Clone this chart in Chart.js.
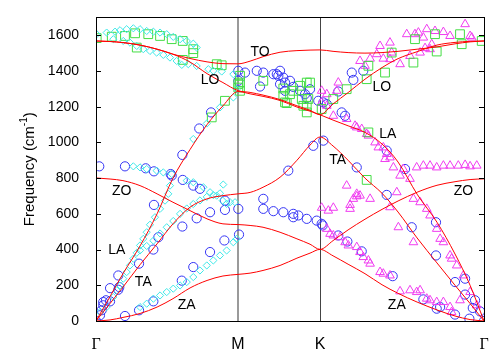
<!DOCTYPE html>
<html>
<head>
<meta charset="utf-8">
<script src="https://cdn.jsdelivr.net/npm/chart.js@4.4.1/dist/chart.umd.min.js"></script>
<style>
  html, body { margin: 0; padding: 0; background: #fff; }
  #wrap { width: 500px; height: 350px; }
</style>
</head>
<body>
<div id="wrap"><canvas id="chart"></canvas></div>
<script>
// high symmetry points along the path (Gamma-M = 1)
const kTicks = [0, 1, 1.577, 2.732];
const kTickLabels = ["Γ", "M", "K", "Γ"];
const yTicks = [0, 200, 400, 600, 800, 1000, 1200, 1400, 1600];

// calculated branches, sampled along the path
const kPath = [0, 0.099, 0.190, 0.310, 0.430, 0.542, 0.662, 0.782, 0.894, 1.0,
    1.085, 1.176, 1.296, 1.415, 1.507, 1.577,
    1.669, 1.775, 1.894, 2.014, 2.127, 2.261, 2.401, 2.528, 2.634, 2.732];
const ZA = [0, 6, 20, 42, 78, 125, 185, 227, 252, 261,
    268, 283, 311, 352, 380, 401,
    365, 318, 265, 203, 155, 106, 62, 28, 8, 0];
const TA = [0, 98, 190, 315, 432, 544, 637, 684, 702, 712,
    720, 749, 805, 900, 985, 1030,
    980, 900, 800, 715, 610, 465, 325, 200, 98, 0];
const LA = [0, 137, 265, 420, 600, 800, 960, 1100, 1205, 1285,
    1272, 1258, 1235, 1198, 1175, 1155,
    1125, 1093, 1056, 991, 890, 710, 553, 375, 200, 0];
const ZO = [801, 795, 786, 758, 712, 665, 618, 572, 544, 540,
    535, 525, 497, 460, 430, 401,
    450, 510, 570, 625, 672, 721, 760, 780, 792, 796];
const TO = [1568, 1565, 1559, 1545, 1522, 1494, 1470, 1451, 1441, 1440,
    1455, 1480, 1505, 1514, 1517, 1518,
    1510, 1503, 1500, 1503, 1510, 1522, 1535, 1552, 1563, 1568];
const LO = [1568, 1565, 1559, 1545, 1522, 1494, 1450, 1385, 1335, 1290,
    1280, 1265, 1240, 1205, 1180, 1155,
    1215, 1279, 1354, 1419, 1469, 1508, 1545, 1560, 1566, 1568];

// measured points (circles)
const blueK = [0, 0.028, 0.040, 0.051, 0.051, 0.070, 0.099, 0.099, 0.157, 0.157, 0.164, 0.204, 0.303, 0.303, 0.404, 0.404, 0.439, 0.408, 0.533, 0.608, 0.604, 0.611, 0.685, 0.685, 0.709, 0.732, 0.803, 0.803, 0.904, 0.908, 0.908, 1.002, 1.007,
    0.023, 0.204, 0.350, 0.408, 0.526, 0.608, 0.727, 0.810, 1.002, 1.002, 1.049,
    1.132, 1.155, 1.178, 1.273, 1.296, 1.319, 1.331, 1.366, 1.331, 1.389, 1.437, 1.472, 1.507, 1.484, 1.565, 1.249, 1.284, 1.296,
    1.178, 1.178, 1.249, 1.319, 1.389, 1.389, 1.425, 1.484, 1.554, 1.589,
    1.354, 1.530,
    1.601, 1.625, 1.706, 1.730, 1.754, 1.801, 1.812, 1.882,
    1.601, 1.836, 2.047, 2.176,
    1.596, 1.706, 1.770, 1.871, 2.089, 2.047, 2.223, 2.394, 2.394, 2.305, 2.399, 2.423, 2.528, 2.599, 2.599, 2.669, 2.653, 2.704, 2.629, 2.528, 2.732];
const blueF = [0, 32, 60, 88, 106, 116, 110, 184, 175, 255, 190, 28, 321, 60, 400, 110, 469, 650, 814, 529, 226, 790, 302, 758, 575, 740, 609, 386, 451, 674, 622, 628, 484,
    866, 866, 855, 838, 823, 930, 1078, 1168, 1401, 1345, 1391,
    1401, 1313, 1391, 1382, 1401, 1363, 1335, 1345, 1289, 1311, 1289, 1270, 1298, 1248, 1233, 1382, 1373, 1326,
    684, 628, 615, 609, 600, 581, 591, 572, 562, 544,
    842, 981,
    1224, 1214, 1285, 1168, 1149, 1391, 1350, 1401,
    1010, 860, 954, 851,
    535, 479, 445, 390, 251, 706, 525, 553, 367, 121, 69, 78, 218, 237, 148, 116, 73, 54, 13, 36, 0];

// measured points (diamonds)
const cyanK = [0.005, 0.075, 0.134, 0.169, 0.216, 0.263, 0.310, 0.357, 0.404, 0.451, 0.498, 0.544, 0.592, 0.639, 0.685, 0.709,
    0.122, 0.192, 0.239, 0.287, 0.333, 0.380, 0.427, 0.474, 0.521, 0.568, 0.604, 0.650, 0.709, 0.791, 0.826, 0.885, 0.967, 0.991,
    0.685, 0.780, 0.873, 0.967,
    0.263, 0.310, 0.357, 0.427, 0.474, 0.533, 0.639, 0.685, 0.756, 0.803, 0.850, 0.892, 0.920, 0.896, 0.979,
    0.028, 0.075, 0.122, 0.146, 0.169, 0.192, 0.216, 0.239, 0.263, 0.287, 0.310, 0.333, 0.357, 0.380, 0.415, 0.451, 0.486, 0.509, 0.521,
    0.310, 0.357, 0.404, 0.451, 0.498, 0.544, 0.592, 0.639, 0.685, 0.732, 0.780, 0.826, 0.873, 0.944,
    0.310, 0.357, 0.404, 0.451, 0.498, 0.544, 0.592, 0.639, 0.685, 0.732, 0.780, 0.826, 0.873, 0.920, 0.967, 0.991];
const cyanF = [1606, 1615, 1620, 1628, 1634, 1639, 1634, 1624, 1620, 1615, 1606, 1591, 1578, 1568, 1553, 1531,
    1578, 1568, 1559, 1540, 1522, 1512, 1503, 1490, 1475, 1456, 1434, 1438, 1428, 1410, 1401, 1397, 1382, 1298,
    1019, 1106, 1196, 1252,
    866, 860, 851, 842, 832, 823, 786, 777, 749, 721, 702, 674, 656, 764, 665,
    50, 78, 134, 172, 199, 237, 274, 311, 349, 382, 423, 460, 497, 539, 581, 628, 674, 712, 758,
    395, 420, 450, 490, 525, 560, 600, 630, 655, 675, 695, 705, 715, 665,
    78, 97, 125, 143, 162, 181, 199, 218, 246, 283, 311, 339, 367, 395, 441, 460];

// measured points (squares)
const greenK = [0.005, 0.111, 0.204, 0.275, 0.368, 0.451, 0.533, 0.611, 0.685, 0.685, 0.287, 0.611, 0.850, 0.885, 0.908, 0.815, 1.002, 1.002, 1.014,
    1.014, 1.014, 1.178, 1.319, 1.319, 1.343, 1.389, 1.437, 1.484, 1.449, 1.495, 1.484, 1.484, 1.331, 1.366, 1.460, 1.507, 1.589,
    1.671, 1.765, 1.906, 1.918, 2.035, 2.082, 2.235, 2.246, 2.387, 2.399, 2.563, 2.575, 2.716, 1.906, 1.918];
const greenF = [1584, 1592, 1596, 1611, 1606, 1596, 1578, 1568, 1522, 1500, 1531, 1462, 1438, 1432, 1233, 1140, 1326, 1307, 1289,
    1373, 1335, 1345, 1302, 1261, 1220, 1289, 1317, 1335, 1243, 1243, 1168, 1205, 1224, 1270, 1205, 1335, 1187,
    1243, 1298, 1354, 1429, 1391, 1503, 1447, 1578, 1606, 1509, 1606, 1550, 1568, 790, 1056];

// measured points (triangles)
const magentaK = [1.589, 1.625, 1.589, 1.625, 1.671, 1.765, 1.824, 1.871, 1.918, 1.965, 1.988, 2.035, 2.070, 2.094, 1.836, 1.906, 2.023, 2.047,
    1.706, 1.695, 1.859, 1.894, 1.930, 1.977, 2.000, 2.023, 2.070, 2.070, 2.082, 2.141, 2.188, 2.211, 2.246, 2.270, 2.282, 2.305, 2.317, 2.329, 2.352, 2.364, 2.387, 2.446, 2.493, 2.599, 2.634, 2.646,
    2.164, 2.258, 2.305, 2.352, 2.399, 2.446, 2.493, 2.551, 2.599, 2.634, 2.681, 2.141, 2.211,
    1.589, 1.636, 1.671, 1.789, 1.789, 1.812, 1.836, 1.859, 1.930, 1.765, 1.836,
    2.070, 2.129, 2.235, 2.118, 2.235, 2.282, 2.329, 2.352, 2.399, 2.423, 2.446, 2.493, 2.504, 2.540, 2.587, 2.634, 2.681,
    1.625, 1.648, 1.671, 1.718, 1.754, 1.777, 1.836, 1.859, 1.882, 1.918, 1.930, 2.000, 2.023, 2.070, 2.141, 2.211, 2.258, 2.282, 2.329, 2.352, 2.399, 2.446, 2.493, 2.504, 2.563];
const magentaF = [1289, 1270, 1224, 1205, 1149, 1131, 1093, 1075, 1038, 1000, 972, 907, 916, 860, 1084, 1047, 972, 935,
    1335, 1289, 1456, 1429, 1469, 1494, 1540, 1469, 1559, 1466, 1503, 1438, 1606, 1484, 1606, 1615, 1503, 1587, 1528, 1634, 1522, 1550, 1624, 1618, 1596, 1662, 1596, 1587,
    851, 860, 870, 870, 860, 870, 870, 870, 874, 866, 870, 814, 796,
    634, 618, 634, 650, 628, 684, 698, 702, 684, 758, 712,
    637, 525, 441, 721, 684, 665, 628, 591, 516, 460, 441, 367, 349, 311, 255, 162, 88,
    516, 488, 479, 469, 441, 423, 414, 386, 358, 339, 321, 274, 265, 255, 166, 172, 162, 172, 125, 116, 106, 106, 78, 50, 116];

// branch names written on the plot
const branchNames = ["TO", "LO", "LO", "LA", "TA", "ZO", "ZO", "LA", "TA", "ZA", "ZA"];
const branchNameK = [1.155, 0.803, 2.012, 2.054, 1.702, 0.181, 2.587, 0.146, 0.333, 0.639, 2.118];
const branchNameF = [1503, 1349, 1311, 1047, 898, 726, 726, 395, 218, 88, 88];

const FONT = "'Liberation Sans', Arial, Helvetica, sans-serif";
const SERIF = "'Liberation Serif', 'Times New Roman', serif";

function pts(xs, ys) {
    return xs.map((x, i) => ({ x: x, y: ys[i] }));
}

function branch(values) {
    return {
        type: "line",
        data: pts(kPath, values),
        borderColor: "#ff0000",
        borderWidth: 1,
        pointRadius: 0,
        cubicInterpolationMode: "monotone",
        fill: false,
        order: 0
    };
}

function measured(xs, ys, style, color, r) {
    return {
        type: "scatter",
        data: pts(xs, ys),
        pointStyle: style,
        pointRadius: r,
        pointBorderColor: color,
        pointBackgroundColor: "rgba(0,0,0,0)",
        pointBorderWidth: 1,
        showLine: false,
        order: 1
    };
}

const decorations = {
    id: "decorations",
    beforeDatasetsDraw(chart) {
        const { ctx, chartArea: a, scales: { x } } = chart;
        ctx.save();
        // M and K separators
        let xm = Math.round(x.getPixelForValue(kTicks[1]));
        ctx.strokeStyle = "#9a9a9a";
        ctx.lineWidth = 2;
        ctx.beginPath();
        ctx.moveTo(xm, a.top);
        ctx.lineTo(xm, a.bottom);
        ctx.stroke();
        let xk = Math.round(x.getPixelForValue(kTicks[2])) + 0.5;
        ctx.strokeStyle = "#444";
        ctx.lineWidth = 1;
        ctx.beginPath();
        ctx.moveTo(xk, a.top);
        ctx.lineTo(xk, a.bottom);
        ctx.stroke();
        ctx.restore();
    },
    afterDatasetsDraw(chart) {
        const { ctx, chartArea: a, scales: { x, y } } = chart;
        ctx.save();
        ctx.strokeStyle = "#000";
        ctx.lineWidth = 1;
        ctx.strokeRect(Math.round(a.left) + 0.5, Math.round(a.top) + 0.5,
            Math.round(a.right - a.left), Math.round(a.bottom - a.top));
        // inward ticks on both sides
        ctx.beginPath();
        yTicks.forEach(v => {
            let py = Math.round(y.getPixelForValue(v)) + 0.5;
            ctx.moveTo(a.left, py);
            ctx.lineTo(a.left + 5, py);
            ctx.moveTo(a.right, py);
            ctx.lineTo(a.right - 5, py);
        });
        ctx.stroke();

        ctx.fillStyle = "#000";
        ctx.font = "14px " + FONT;
        ctx.textAlign = "center";
        ctx.textBaseline = "middle";
        branchNames.forEach((t, i) => {
            ctx.fillText(t, x.getPixelForValue(branchNameK[i]), y.getPixelForValue(branchNameF[i]));
        });

        // y axis title with superscript
        let main = "Frequency (cm";
        let sup = "-1";
        ctx.font = "15px " + FONT;
        let w1 = ctx.measureText(main).width;
        let w3 = ctx.measureText(")").width;
        ctx.font = "10px " + FONT;
        let w2 = ctx.measureText(sup).width;
        let total = w1 + w2 + w3;
        ctx.translate(30, (a.top + a.bottom) / 2);
        ctx.rotate(-Math.PI / 2);
        ctx.textAlign = "left";
        ctx.textBaseline = "middle";
        ctx.font = "15px " + FONT;
        ctx.fillText(main, -total / 2, 0);
        ctx.font = "10px " + FONT;
        ctx.fillText(sup, -total / 2 + w1, -6);
        ctx.font = "15px " + FONT;
        ctx.fillText(")", -total / 2 + w1 + w2, 0);
        ctx.restore();
    }
};

new Chart(document.getElementById("chart"), {
    data: {
        datasets: [
            branch(ZA), branch(TA), branch(LA), branch(ZO), branch(TO), branch(LO),
            measured(cyanK, cyanF, "rectRot", "#3ee8e8", 3.6),
            measured(greenK, greenF, "rect", "#44dd44", 6.2),
            measured(magentaK, magentaF, "triangle", "#f03cf0", 5),
            measured(blueK, blueF, "circle", "#3535f5", 4.6)
        ]
    },
    options: {
        responsive: true,
        maintainAspectRatio: false,
        animation: false,
        layout: { padding: { top: 16, right: 16, left: 0, bottom: 0 } },
        plugins: {
            legend: { display: false },
            tooltip: { enabled: false }
        },
        scales: {
            x: {
                type: "linear",
                min: 0,
                max: kTicks[kTicks.length - 1],
                grid: { display: false },
                border: { display: false },
                afterBuildTicks: s => { s.ticks = kTicks.map(v => ({ value: v })); },
                afterFit: s => { s.height = 29; },
                ticks: {
                    autoSkip: false,
                    maxRotation: 0,
                    padding: 6,
                    color: "#000",
                    font: c => ({ family: c.index === 1 || c.index === 2 ? FONT : SERIF, size: 16 }),
                    callback: (v, i) => kTickLabels[i]
                }
            },
            y: {
                min: 0,
                max: 1700,
                grid: { display: false },
                border: { display: false },
                afterBuildTicks: s => { s.ticks = yTicks.map(v => ({ value: v })); },
                afterFit: s => { s.width = 96; },
                ticks: {
                    padding: 9,
                    color: "#000",
                    font: { family: FONT, size: 14 },
                    callback: v => String(v)
                }
            }
        }
    },
    plugins: [decorations]
});
</script>
</body>
</html>
